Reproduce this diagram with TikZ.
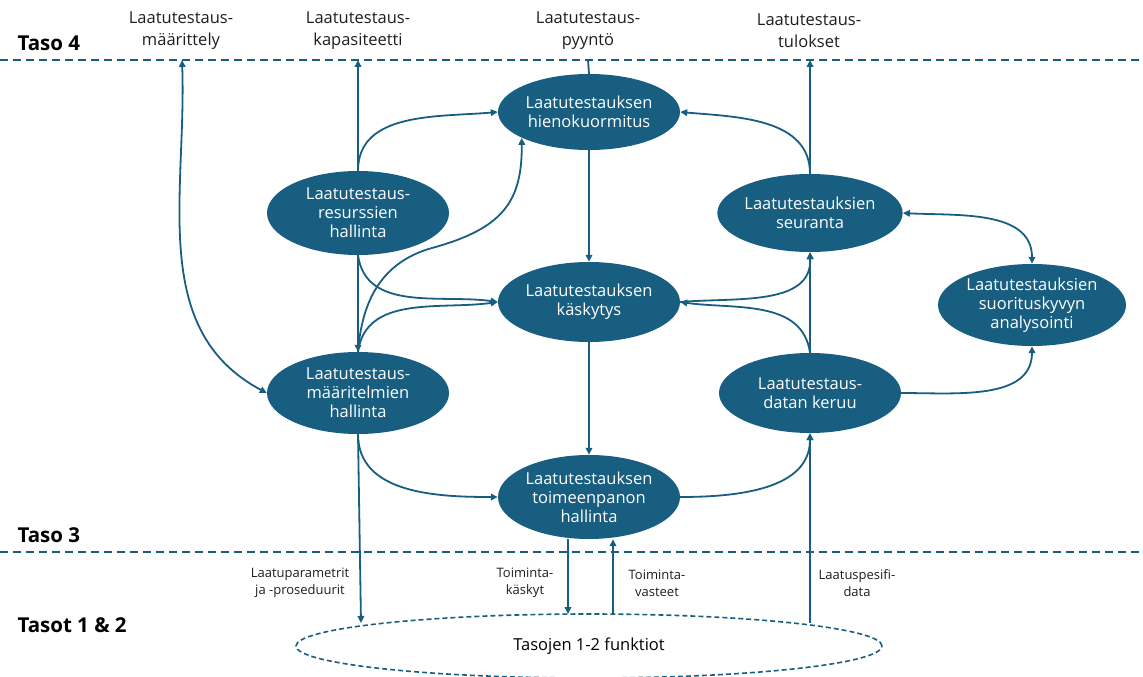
\documentclass[tikz,border=0pt]{standalone}
\usepackage{fontspec}
\setmainfont{Open Sans}
\usetikzlibrary{shapes.geometric,arrows.meta}
\definecolor{tealblue}{HTML}{185E80}
\definecolor{inkdark}{HTML}{1E1E1E}
\begin{document}
\begin{tikzpicture}[x=1pt,y=1pt,
  proc/.style={ellipse, fill=tealblue, text=white, inner sep=0pt, align=center,
    minimum width=182pt, minimum height=80pt, font=\fontsize{16.5}{19}\selectfont},
  flow/.style={draw=tealblue, line width=1.8pt, -{Triangle[length=7pt,width=6.5pt]}},
  twoway/.style={flow, {Triangle[length=7pt,width=6.5pt]}-{Triangle[length=7pt,width=6.5pt]}},
  plain/.style={draw=tealblue, line width=1.8pt},
  levelline/.style={draw=tealblue, line width=1.8pt, dash pattern=on 8pt off 5pt},
  toplabel/.style={text=inkdark, align=center, font=\fontsize{16.5}{22}\selectfont},
  sidelabel/.style={text=inkdark, align=center, font=\fontsize{13}{17}\selectfont},
  levellabel/.style={text=black, anchor=west, font=\bfseries\fontsize{20.5}{22}\selectfont}
]
\useasboundingbox (0,0) rectangle (1143,-677);

% level separators
\coordinate (l4a) at (0,-60);
\coordinate (l4b) at (1143,-60);
\coordinate (l3a) at (0,-552);
\coordinate (l3b) at (1143,-552);
\draw[levelline] (l4a) -- (l4b);
\draw[levelline] (l3a) -- (l3b);

\node[levellabel] (taso4) at (14,-43) {Taso 4};
\node[levellabel] (taso3) at (14,-535) {Taso 3};
\node[levellabel] (taso12) at (14,-625) {Tasot 1 \& 2};

% level 4 interfaces
\node[toplabel] (ulkMaar) at (181,-31) {Laatutestaus-\\määrittely};
\node[toplabel] (ulkKap) at (358,-31) {Laatutestaus-\\kapasiteetti};
\node[toplabel] (ulkPyy) at (588,-31) {Laatutestaus-\\pyyntö};
\node[toplabel] (ulkTul) at (809,-31) {Laatutestaus-\\tulokset};
\coordinate (pMaar) at (182,-60);
\coordinate (pKap) at (358,-60);
\coordinate (pPyy) at (588,-60);
\coordinate (pTul) at (810,-60);

% level 3 functions
\node[proc, minimum height=76pt] (hieno) at (589,-112) {Laatutestauksen\\hienokuormitus};
\node[proc, minimum height=84pt] (resurssi) at (358,-213) {Laatutestaus-\\resurssien\\hallinta};
\node[proc, minimum height=78pt] (seuranta) at (810,-213) {Laatutestauksien\\seuranta};
\node[proc] (kasky) at (589,-302) {Laatutestauksen\\käskytys};
\node[proc, minimum width=188pt, minimum height=82pt] (analyysi) at (1032,-305) {Laatutestauksien\\suorituskyvyn\\analysointi};
\node[proc, minimum height=82pt] (maaritelma) at (358,-393) {Laatutestaus-\\määritelmien\\hallinta};
\node[proc] (keruu) at (810,-393) {Laatutestaus-\\datan keruu};
\node[proc, minimum height=84pt] (toimeen) at (589,-497) {Laatutestauksen\\toimeenpanon\\hallinta};

% levels 1-2
\node[draw=tealblue, line width=1.6pt, dash pattern=on 5pt off 3pt, ellipse,
      minimum width=586pt, minimum height=64pt, inner sep=0pt,
      text=black, font=\fontsize{16.5}{19}\selectfont] (funk) at (589,-646) {Tasojen 1-2 funktiot};
\coordinate (fParam) at (361,-623);
\coordinate (fKasky) at (568,-614);
\coordinate (fVaste) at (613,-614);
\coordinate (fData) at (810,-623);

% connectors to level 4
\draw[twoway] (pMaar) to[out=-88, in=152] (maaritelma.west);
\draw[flow] (resurssi.north) -- (pKap);
\draw[plain] (pPyy) -- (hieno.north);
\draw[flow] (seuranta.north) -- (pTul);

% connectors inside level 3
\draw[flow] (resurssi.north) to[out=90, in=185] (hieno.west);
\draw[flow] (seuranta.north) to[out=90, in=-5] (hieno.east);
\draw[flow] (resurssi.south) -- (maaritelma.north);
\draw[flow] (resurssi.south) to[out=-82, in=172] (kasky.west);
\draw[flow] (maaritelma.north) to[out=82, in=188] (kasky.west);
\draw[flow] (maaritelma.north) .. controls (362,-300) and (382,-262) .. (432,-248)
            .. controls (505,-228) and (522,-200) .. (hieno.201);
\draw[flow] (hieno.south) -- (kasky.north);
\draw[flow] (kasky.south) -- (toimeen.north);
\draw[flow] (keruu.north) -- (seuranta.south);
\draw[flow] (keruu.north) to[out=98, in=-8] (kasky.east);
\draw[flow] (kasky.east) to[out=5, in=-88] (seuranta.south);
\draw[twoway] (seuranta.east) to[out=-3, in=90] (analyysi.north);
\draw[flow] (keruu.east) to[out=0, in=-90] (analyysi.south);
\draw[flow] (toimeen.east) to[out=0, in=-90] (keruu.south);
\draw[flow] (maaritelma.south) to[out=-90, in=180] (toimeen.west);

% connectors to levels 1-2
\draw[flow] (maaritelma.south) -- (fParam);
\draw[flow] ([xshift=-21pt]toimeen.south) -- (fKasky);
\draw[flow] (fVaste) -- ([xshift=24pt]toimeen.south);
\draw[flow] (fData) -- (keruu.south);

\node[sidelabel] (lParam) at (300,-583) {Laatuparametrit\\ja -proseduurit};
\node[sidelabel] (lKasky) at (525,-583) {Toiminta-\\käskyt};
\node[sidelabel] (lVaste) at (657,-583) {Toiminta-\\vasteet};
\node[sidelabel] (lData) at (857,-583) {Laatuspesifi-\\data};
\end{tikzpicture}
\end{document}
